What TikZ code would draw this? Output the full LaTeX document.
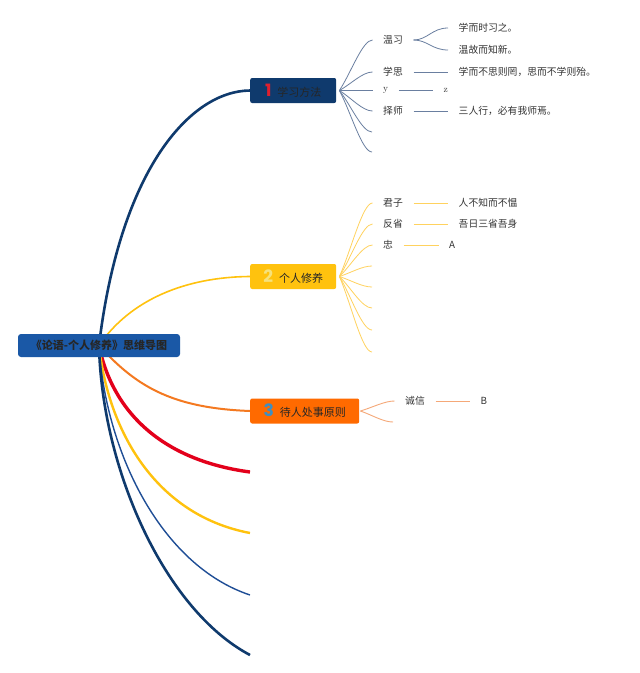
\documentclass[tikz,border=0pt]{standalone}
\usepackage{fontspec}
\newfontfamily\cjk{Noto Sans CJK SC}
\newfontfamily\numf{Poppins}
\usetikzlibrary{calc,backgrounds}
\definecolor{rootblue}{HTML}{1A58A6}
\definecolor{navy}{HTML}{0F3A6D}
\definecolor{numred}{HTML}{E0202E}
\definecolor{gold}{HTML}{FFC20E}
\definecolor{numpale}{HTML}{F6E27C}
\definecolor{orangebox}{HTML}{FF6A00}
\definecolor{orangeline}{HTML}{F47920}
\definecolor{numteal}{HTML}{3D8FC4}
\definecolor{redline}{HTML}{E3001B}
\definecolor{blueline}{HTML}{1F4E96}
\definecolor{leaftext}{HTML}{333333}
\definecolor{fanblue}{HTML}{6A7FA0}
\definecolor{fangold}{HTML}{FFD25E}
\definecolor{fanorange}{HTML}{F5A878}
\newcommand\numtxt[2]{{\numf\bfseries\fontsize{17}{17}\selectfont\color{#1}#2}}
\begin{document}
\begin{tikzpicture}[x=1pt,y=-1pt,
  rootbox/.style={fill=rootblue, rounded corners=3pt, minimum width=162pt, minimum height=23pt, inner sep=0pt,
    font=\cjk\bfseries\fontsize{11}{13}\selectfont, text=black!85},
  topic/.style={rounded corners=2pt, minimum height=25pt, anchor=west, inner xsep=0pt, inner ysep=0pt,
    font=\cjk\fontsize{11}{13}\selectfont, text=black!85},
  leaf/.style={anchor=west, inner xsep=10.5pt, inner ysep=2pt, font=\cjk\fontsize{9.8}{11}\selectfont, text=leaftext},
  latinleaf/.style={leaf, font=\rmfamily\fontsize{9.5}{11}\selectfont},
  fan/.style={to path={.. controls ($(\tikztostart)!0.35!(\tikztotarget)$) and ($(\tikztotarget)+(-10pt,0pt)$) .. (\tikztotarget)}},
  split/.style={to path={.. controls ($(\tikztostart)+(14pt,0pt)$) and ($(\tikztotarget)+(-16pt,0pt)$) .. (\tikztotarget)}},
  fan1/.style={draw=fanblue, line width=0.8pt},
  fan2/.style={draw=fangold, line width=0.8pt},
  fan3/.style={draw=fanorange, line width=0.9pt}
]
\useasboundingbox (0,0) rectangle (640,673);

% root and main topics
\node[rootbox] (root) at (99,345.5) {《论语-个人修养》思维导图};
\node[topic, fill=navy, minimum width=86pt] (n1) at (250,90.5) {\numtxt{numred}{1}\hspace{6pt}学习方法};
\node[topic, fill=gold, minimum width=86pt] (n2) at (250,276.5) {\numtxt{numpale}{2}\hspace{6pt}个人修养};
\node[topic, fill=orangebox, minimum width=109pt] (n3) at (250,411) {\numtxt{numteal}{3}\hspace{6pt}待人处事原则};

% free ends of empty branches
\coordinate (e4) at (250,472);
\coordinate (e5) at (250,533);
\coordinate (e6) at (250,595);
\coordinate (e7) at (250,655);

% topic 1 children
\node[leaf] (a1) at (372.5,40) {温习};
\node[leaf] (a11) at (448,28) {学而时习之。};
\node[leaf] (a12) at (448,50) {温故而知新。};
\node[leaf] (a2) at (372.5,72) {学思};
\node[leaf] (a21) at (448,72) {学而不思则罔，思而不学则殆。};
\node[latinleaf] (a3) at (372.5,90.5) {y};
\node[latinleaf] (a31) at (433,90.5) {z};
\node[leaf] (a4) at (372.5,111) {择师};
\node[leaf] (a41) at (448,111) {三人行，必有我师焉。};
\coordinate (a5) at (372,132);
\coordinate (a6) at (372,152);

% topic 2 children
\node[leaf] (b1) at (372.5,203) {君子};
\node[leaf] (b11) at (448,203) {人不知而不愠};
\node[leaf] (b2) at (372.5,224) {反省};
\node[leaf] (b21) at (448,224) {吾日三省吾身};
\node[leaf] (b3) at (372.5,245) {忠};
\node[leaf] (b31) at (438.5,245) {A};
\coordinate (b4) at (372,266);
\coordinate (b5) at (372,287);
\coordinate (b6) at (372,308);
\coordinate (b7) at (372,330);
\coordinate (b8) at (372,352);

% topic 3 children
\node[leaf] (c1) at (394.5,401) {诚信};
\node[leaf] (c11) at (470,401) {B};
\coordinate (c2) at (393,422);

\begin{scope}[on background layer]
\fill[white] (0,0) rectangle (640,673);
\draw[navy, line width=2.6pt] (root.center) .. controls (120,170) and (190,91) .. (n1.west);
\draw[gold, line width=1.6pt] (root.center) .. controls (130,300) and (185,277) .. (n2.west);
\draw[orangeline, line width=2pt] (root.center) .. controls (135,385) and (170,408) .. (n3.west);
\draw[redline, line width=3.4pt] (root.center) .. controls (112,410) and (160,460) .. (e4);
\draw[gold, line width=2.4pt] (root.center) .. controls (108,430) and (155,515) .. (e5);
\draw[blueline, line width=1.4pt] (root.center) .. controls (105,450) and (160,565) .. (e6);
\draw[navy, line width=2.6pt] (root.center) .. controls (102,470) and (165,610) .. (e7);
% fans start just inside the topic boxes
\foreach \t in {a1.west,a2.west,a3.west,a4.west,a5,a6}
  \draw[fan1] ([xshift=3pt]n1.east) to[fan] (\t);
\foreach \t in {b1.west,b2.west,b3.west,b4,b5,b6,b7,b8}
  \draw[fan2] ([xshift=3pt]n2.east) to[fan] (\t);
\foreach \t in {c1.west,c2}
  \draw[fan3] ([xshift=1pt]n3.east) to[fan] (\t);
\end{scope}

% sub-branches of topic 1
\draw[fan1] (a1.east) to[split] (a11.west);
\draw[fan1] (a1.east) to[split] (a12.west);
\draw[fan1] (a2.east) -- (a21.west);
\draw[fan1] (a3.east) -- (a31.west);
\draw[fan1] (a4.east) -- (a41.west);

% sub-branches of topic 2
\draw[fan2] (b1.east) -- (b11.west);
\draw[fan2] (b2.east) -- (b21.west);
\draw[fan2] (b3.east) -- (b31.west);

% sub-branch of topic 3
\draw[fan3] (c1.east) -- (c11.west);
\end{tikzpicture}
\end{document}
